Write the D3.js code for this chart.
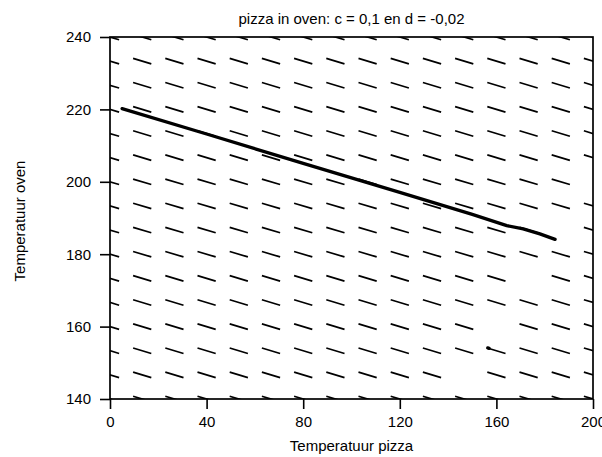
<!DOCTYPE html>
<html>
<head>
<meta charset="utf-8">
<script src="https://cdn.jsdelivr.net/npm/d3@7"></script>
<style>
  body { margin: 0; background: #fff; }
  svg { display: block; font-family: "Liberation Sans", Arial, sans-serif; }
</style>
</head>
<body>
<svg id="chart" width="602" height="457"></svg>
<script>
// ---- data ----
const titleText = "pizza in oven: c = 0,1 en d = -0,02";
const xLabel = "Temperatuur pizza";
const yLabel = "Temperatuur oven";
const cCoef = 0.1;
const dCoef = -0.02;
const xDomain = [0, 200];
const yDomain = [140, 240];
const xTicks = [0, 40, 80, 120, 160, 200];
const yTicks = [140, 160, 180, 200, 220, 240];
const gridCount = 16;               // field grid points per axis
const emptyCells = [[160, 160], [173.33, 173.33], [200, 200]]; // equilibrium cells with no segment
// trajectory of the pizza (pizza temp, oven temp)
const trajP = [5, 40, 80, 120, 150, 164.3, 171.1, 178, 184.3];
const trajO = [220.2, 213.2, 205.1, 197.1, 191.0, 187.9, 187.0, 185.6, 184.1];
// second (very short) trajectory
const traj2P = [157.0, 156.4];
const traj2O = [154.0, 154.12];

// ---- layout ----
const svg = d3.select("#chart");
const mLeft = 110, mRight = 593, mTop = 37, mBottom = 399;
const fontSize = "15px";
const x = d3.scaleLinear().domain(xDomain).range([mLeft, mRight]);
const y = d3.scaleLinear().domain(yDomain).range([mBottom, mTop]);

svg.append("defs").append("clipPath").attr("id", "clip")
  .append("rect").attr("x", mLeft).attr("y", mTop)
  .attr("width", mRight - mLeft).attr("height", mBottom - mTop);

// ---- direction field ----
const fieldP = d3.range(gridCount).map(i => xDomain[0] + i * (xDomain[1] - xDomain[0]) / (gridCount - 1));
const fieldO = d3.range(gridCount).map(j => yDomain[0] + j * (yDomain[1] - yDomain[0]) / (gridCount - 1));
const cells = [];
fieldP.forEach(P => fieldO.forEach(O => {
  const skip = emptyCells.some(e => Math.abs(e[0] - P) < 0.01 && Math.abs(e[1] - O) < 0.01);
  if (!skip) cells.push({ P, O, dp: cCoef * (O - P), dq: dCoef * (O - P) });
}));
const halfLen = 9.5;
const fieldG = svg.append("g").attr("clip-path", "url(#clip)");
fieldG.selectAll("line.seg").data(cells).join("line")
  .attr("class", "seg")
  .each(function (d) {
    const sx = (x(d.P + d.dp) - x(d.P));
    const sy = (y(d.O + d.dq) - y(d.O));
    const m = Math.hypot(sx, sy) || 1;
    const ux = sx / m * halfLen, uy = sy / m * halfLen;
    d3.select(this)
      .attr("x1", x(d.P) - ux).attr("y1", y(d.O) - uy)
      .attr("x2", x(d.P) + ux).attr("y2", y(d.O) + uy);
  })
  .attr("stroke", "#000").attr("stroke-width", 1.7);

// ---- trajectories ----
const line = d3.line().x(d => x(d[0])).y(d => y(d[1]));
const tData = trajP.map((p, i) => [p, trajO[i]]);
const t2Data = traj2P.map((p, i) => [p, traj2O[i]]);
[tData, t2Data].forEach(td => {
  svg.append("path").datum(td).attr("d", line)
    .attr("fill", "none").attr("stroke", "#000")
    .attr("stroke-width", 3.3).attr("stroke-linecap", "round").attr("stroke-linejoin", "round");
});

// ---- axes ----
const xAxis = d3.axisBottom(x).tickValues(xTicks).tickSize(10).tickPadding(7).tickFormat(d3.format("d"));
const yAxis = d3.axisLeft(y).tickValues(yTicks).tickSize(10).tickPadding(9).tickFormat(d3.format("d"));
const gx = svg.append("g").attr("transform", `translate(0,${mBottom})`).call(xAxis);
const gy = svg.append("g").attr("transform", `translate(${mLeft},0)`).call(yAxis);
[gx, gy].forEach(g => {
  g.select(".domain").remove();
  g.selectAll(".tick line").attr("stroke", "#000").attr("stroke-width", 1.6);
  g.selectAll(".tick text").attr("fill", "#000").style("font-size", fontSize)
    .style("font-family", '"Liberation Sans", Arial, sans-serif');
});

// frame
svg.append("rect").attr("x", mLeft).attr("y", mTop)
  .attr("width", mRight - mLeft).attr("height", mBottom - mTop)
  .attr("fill", "none").attr("stroke", "#000").attr("stroke-width", 1.7);

// ---- texts ----
svg.append("text").attr("x", (mLeft + mRight) / 2).attr("y", 24)
  .attr("text-anchor", "middle").style("font-size", fontSize).text(titleText);
svg.append("text").attr("x", (mLeft + mRight) / 2).attr("y", 451)
  .attr("text-anchor", "middle").style("font-size", fontSize).text(xLabel);
svg.append("text").attr("transform", `translate(25,${(mTop + mBottom) / 2 + 3}) rotate(-90)`)
  .attr("text-anchor", "middle").style("font-size", fontSize).text(yLabel);
</script>
</body>
</html>
